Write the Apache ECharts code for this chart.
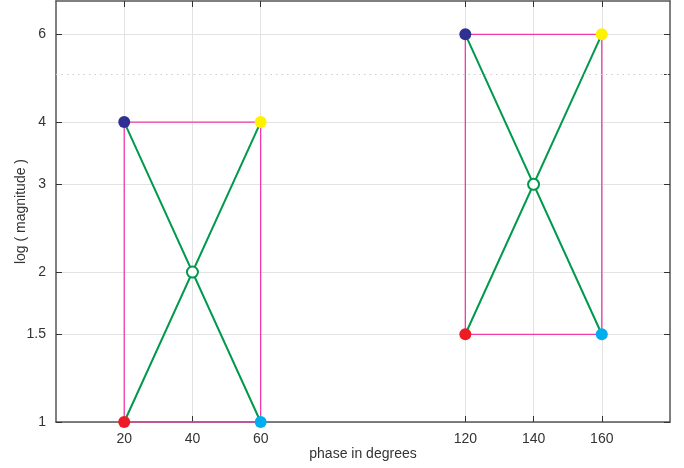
<!DOCTYPE html>
<html><head><meta charset="utf-8">
<script src="https://cdn.jsdelivr.net/npm/echarts@6/dist/echarts.min.js"></script>
<style>html,body{margin:0;padding:0;background:#fff}#c{width:684px;height:468px}</style>
</head><body><div id="c"></div>
<script>
const xTicks = [20, 40, 60, 120, 140, 160];
const yTicks = [1, 1.5, 2, 3, 4, 6];
const yRightTicks = [1, 1.5, 2, 3, 4, 5, 6];
const yMinorDotted = [5];
const xLeft = [20, 120];
const xRight = [60, 160];
const yLow = [1, 1.5];
const yHigh = [4, 6];
const centerX = [40, 140];
const centerY = [2, 3];
const cornerColors = { topLeft: '#2e3192', topRight: '#fff200', bottomLeft: '#ed1c24', bottomRight: '#00aeef' };

const PINK = '#f43aa8', GREEN = '#00994c', AX = '#555';
const font = 'Liberation Sans, Arial, sans-serif';

const series = [];
for (let i = 0; i < xLeft.length; i++) {
  series.push({ type: 'line', silent: true, symbol: 'none', lineStyle: { color: PINK, width: 1.3 }, z: 2,
    data: [[xLeft[i], yLow[i]], [xRight[i], yLow[i]], [xRight[i], yHigh[i]], [xLeft[i], yHigh[i]], [xLeft[i], yLow[i]]] });
  series.push({ type: 'line', silent: true, symbol: 'none', lineStyle: { color: GREEN, width: 2 }, z: 3,
    data: [[xLeft[i], yHigh[i]], [xRight[i], yLow[i]]] });
  series.push({ type: 'line', silent: true, symbol: 'none', lineStyle: { color: GREEN, width: 2 }, z: 3,
    data: [[xLeft[i], yLow[i]], [xRight[i], yHigh[i]]] });
  series.push({ type: 'scatter', silent: true, symbol: 'circle', symbolSize: 11, z: 5,
    itemStyle: { color: '#fff', borderColor: GREEN, borderWidth: 2, opacity: 1 },
    data: [[centerX[i], centerY[i]]] });
  const corners = [
    [xLeft[i], yHigh[i], cornerColors.topLeft],
    [xRight[i], yHigh[i], cornerColors.topRight],
    [xLeft[i], yLow[i], cornerColors.bottomLeft],
    [xRight[i], yLow[i], cornerColors.bottomRight]
  ];
  series.push({ type: 'scatter', silent: true, symbol: 'circle', symbolSize: 12, z: 6,
    data: corners.map(c => ({ value: [c[0], c[1]], itemStyle: { color: c[2], opacity: 1 } })) });
}
series.push({ type: 'line', silent: true, data: [], markLine: { silent: true, symbol: 'none', label: { show: false },
  lineStyle: { color: '#cfcfcf', type: [1.5, 4], width: 1.2 },
  data: yMinorDotted.map(v => ({ yAxis: v })) } });

const axisLine = { show: true, onZero: false, lineStyle: { color: AX, width: 1.5 } };
const tick = (vals) => ({ show: true, inside: true, length: 6, lineStyle: { color: '#333', width: 1 }, customValues: vals });

const option = {
  animation: false,
  grid: { left: 56, right: 14, top: 1, bottom: 46, containLabel: false, outerBoundsMode: 'none' },
  xAxis: [
    { type: 'value', min: 0, max: 180, position: 'bottom',
      name: 'phase in degrees', nameLocation: 'middle', nameGap: 25, nameMoveOverlap: false,
      nameTextStyle: { color: '#333', fontSize: 14, fontFamily: font },
      axisLine, axisTick: tick(xTicks),
      axisLabel: { customValues: xTicks, color: '#333', fontSize: 14, fontFamily: font, margin: 10 },
      splitLine: { show: true, lineStyle: { color: '#e3e3e3', width: 1 } } },
    { type: 'value', min: 0, max: 180, position: 'top',
      axisLine, axisTick: tick(xTicks), axisLabel: { show: false }, splitLine: { show: false } }
  ],
  yAxis: [
    { type: 'log', logBase: 10, min: 1, max: 7, position: 'left',
      name: 'log ( magnitude )', nameLocation: 'middle', nameGap: 28, nameRotate: 90, nameMoveOverlap: false,
      nameTextStyle: { color: '#333', fontSize: 14, fontFamily: font },
      axisLine, axisTick: tick(yTicks),
      axisLabel: { customValues: yTicks, color: '#333', fontSize: 14, fontFamily: font, margin: 10 },
      splitLine: { show: true, lineStyle: { color: '#e3e3e3', width: 1 } } },
    { type: 'log', logBase: 10, min: 1, max: 7, position: 'right',
      axisLine, axisTick: tick(yRightTicks), axisLabel: { show: false }, splitLine: { show: false } }
  ],
  series
};
const chart = echarts.init(document.getElementById('c'), null, { renderer: 'canvas' });
chart.setOption(option);
</script>
</body></html>
